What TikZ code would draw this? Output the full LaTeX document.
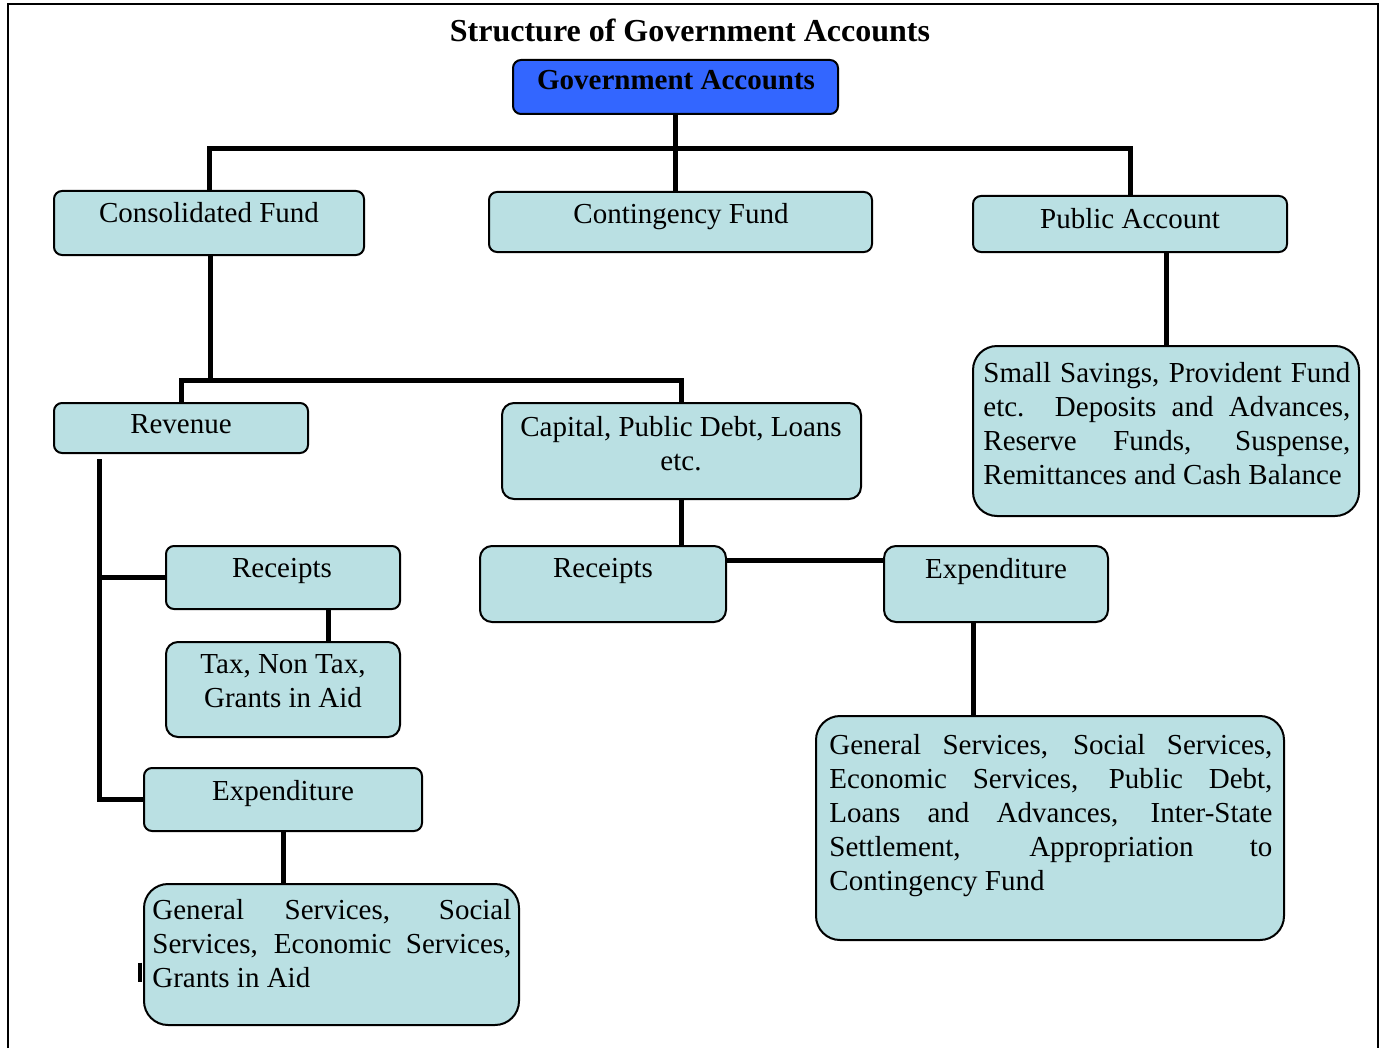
\documentclass[tikz,border=0pt]{standalone}
\usepackage{fontspec}
\setmainfont{Liberation Serif}
\usetikzlibrary{fit,calc}
\definecolor{boxfill}{RGB}{186,224,227}
\definecolor{govblue}{RGB}{51,102,255}
\newcommand\jline[2]{\makebox[#1][s]{#2}}
\begin{document}
\begin{tikzpicture}[x=0.5pt,y=-0.5pt,
  box/.style={draw=black, line width=1pt, fill=boxfill, rounded corners=4pt, inner sep=0pt},
  midbox/.style={box, rounded corners=6pt},
  bigbox/.style={box, rounded corners=12pt},
  lbl/.style={anchor=north, inner sep=0pt, font=\fontsize{14.5}{17}\selectfont, align=center},
  jtxt/.style={anchor=north west, inner sep=0pt, font=\fontsize{14.5}{17}\selectfont, align=left},
  conn/.style={line width=2.5pt}]
\useasboundingbox (0,0) rectangle (1384,1048);
% frame
\draw[line width=1pt] (8,1048) -- (8,4) -- (1378,4) -- (1378,1048);
% title
\node[lbl, font=\bfseries\fontsize{16}{19}\selectfont] (title) at (690,19) {Structure of Government Accounts};
% boxes
\node[box, fill=govblue, fit={(513,60) (838,114)}] (gov) {};
\node[box, fit={(54,191) (364,255)}] (cons) {};
\node[box, fit={(489,192) (872,252)}] (cont) {};
\node[box, fit={(973,196) (1287,252)}] (pub) {};
\node[bigbox, fit={(973,346) (1359,516)}] (ss) {};
\node[box, fit={(54,403) (308,453)}] (rev) {};
\node[midbox, fit={(502,403) (861,499)}] (cap) {};
\node[box, fit={(166,546) (400,609)}] (rl) {};
\node[midbox, fit={(166,642) (400,737)}] (tax) {};
\node[box, fit={(144,768) (422,831)}] (el) {};
\node[bigbox, fit={(144,884) (519,1025)}] (gl) {};
\node[midbox, fit={(480,546) (726,622)}] (rm) {};
\node[midbox, fit={(884,546) (1108,622)}] (er) {};
\node[bigbox, fit={(816,716) (1284,940)}] (gr) {};
% texts
\node[lbl, font=\bfseries\fontsize{14.5}{17}\selectfont] (tgov) at (676,70) {Government Accounts};
\node[lbl] (tcons) at (209,202) {Consolidated Fund};
\node[lbl] (tcont) at (681,203) {Contingency Fund};
\node[lbl] (tpub) at (1130,208) {Public Account};
\node[jtxt] (tss) at (983,362) {\jline{183.5pt}{Small Savings, Provident Fund}\\
  \jline{183.5pt}{etc.\ \ Deposits and Advances,}\\
  \jline{183.5pt}{Reserve Funds, Suspense,}\\
  Remittances and Cash Balance};
\node[lbl] (trev) at (181,414) {Revenue};
\node[lbl] (tcap) at (681,416) {Capital, Public Debt, Loans\\etc.};
\node[lbl] (trl) at (282,558) {Receipts};
\node[lbl] (ttax) at (283,654) {Tax, Non Tax,\\Grants in Aid};
\node[lbl] (tel) at (283,780) {Expenditure};
\node[jtxt] (tgl) at (152,899) {\jline{179.5pt}{General Services, Social}\\
  \jline{179.5pt}{Services, Economic Services,}\\
  Grants in Aid};
\node[lbl] (trm) at (603,558) {Receipts};
\node[lbl] (ter) at (996,558) {Expenditure};
\node[jtxt] (tgr) at (829,734) {\jline{221.5pt}{General Services, Social Services,}\\
  \jline{221.5pt}{Economic Services, Public Debt,}\\
  \jline{221.5pt}{Loans and Advances, Inter-State}\\
  \jline{221.5pt}{Settlement, Appropriation to}\\
  Contingency Fund};
% connectors
\coordinate (j1) at (676,149);
\draw[conn] (gov.south) -- (gov.south |- cont.north);
\draw[conn] (cons.north) |- (j1) -| (pub.north);
\coordinate (j2) at (210,380);
\draw[conn] (cons.south -| j2) -- (j2);
\draw[conn] (rev.north) |- (j2) -| (cap.north);
\draw[conn] (ss.north) -- (ss.north |- pub.south);
\coordinate (sp) at (99,459);
\draw[conn] (sp) |- (el.west);
\draw[conn] (rl.west) -- (rl.west -| sp);
\coordinate (a1) at ([xshift=22.5pt]rl.south);
\draw[conn] (a1) -- (a1 |- tax.north);
\draw[conn] (el.south) -- (el.south |- gl.north);
\draw[conn] (cap.south) -- (cap.south |- rm.north);
\coordinate (a2) at ([yshift=-7.5pt]rm.north east);
\draw[conn] (a2) -- (a2 -| er.west);
\coordinate (a3) at ([xshift=-11.5pt]er.south);
\draw[conn] (a3) -- (a3 |- gr.north);
% small stub left of the lower-left box
\draw[line width=2pt] ([xshift=-1.5pt,yshift=-4pt]gl.west) -- ([xshift=-1.5pt,yshift=-13.5pt]gl.west);
\end{tikzpicture}
\end{document}
